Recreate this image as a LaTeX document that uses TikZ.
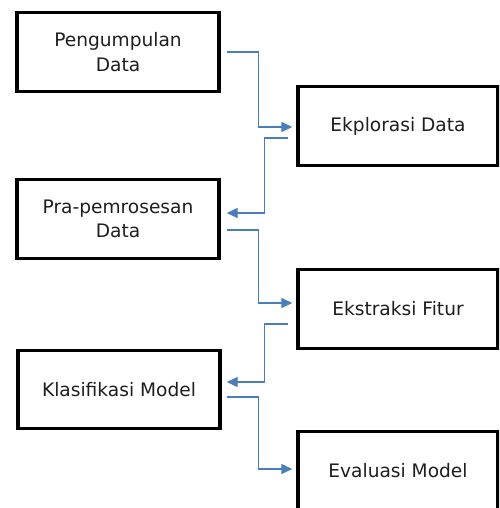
\documentclass[tikz,border=0pt]{standalone}
\usepackage{fontspec}
\setmainfont{DejaVu Sans}
\usetikzlibrary{arrows.meta,calc}
\definecolor{arrowblue}{RGB}{74,126,187}
\definecolor{textgray}{RGB}{30,30,30}
\tikzset{
  stepbox/.style={draw=black, line width=3.4pt, rectangle, minimum width=202pt, minimum height=79pt, align=center, inner sep=0pt, text=textgray, font=\fontsize{18.6}{24.5}\selectfont},
  rbox/.style={stepbox, minimum width=200pt},
  flow/.style={draw=arrowblue, line width=1.4pt, -{Triangle[length=11pt,width=10pt]}}
}
\begin{document}
\begin{tikzpicture}[x=1pt,y=-1pt]
\useasboundingbox (0,0) rectangle (499,508);
\clip (0,0) rectangle (499,508);
\node[stepbox] (b1) at (118,52) {Pengumpulan\\Data};
\node[rbox] (b2) at (398,126) {Ekplorasi Data};
\node[stepbox] (b3) at (118,219) {Pra-pemrosesan\\Data};
\node[rbox] (b4) at (398,309) {Ekstraksi Fitur};
\node[stepbox, minimum height=78pt] (b5) at (119,389.5) {Klasifikasi Model};
\node[rbox] (b6) at (398,471) {Evaluasi Model};
\draw[flow] ($(b1.east)+(6,0)$) -- ++(32,0) |- ($(b2.west)+(-4,1)$);
\draw[flow] ($(b2.west)+(-8,12)$) -- ++(-24,0) |- ($(b3.east)+(6,-6)$);
\draw[flow] ($(b3.east)+(6,11)$) -- ++(32,0) |- ($(b4.west)+(-4,-6)$);
\draw[flow] ($(b4.west)+(-8,15)$) -- ++(-24,0) |- ($(b5.east)+(5,-7.5)$);
\draw[flow] ($(b5.east)+(5,7.5)$) -- ++(32,0) |- ($(b6.west)+(-4,-2)$);
\end{tikzpicture}
\end{document}
